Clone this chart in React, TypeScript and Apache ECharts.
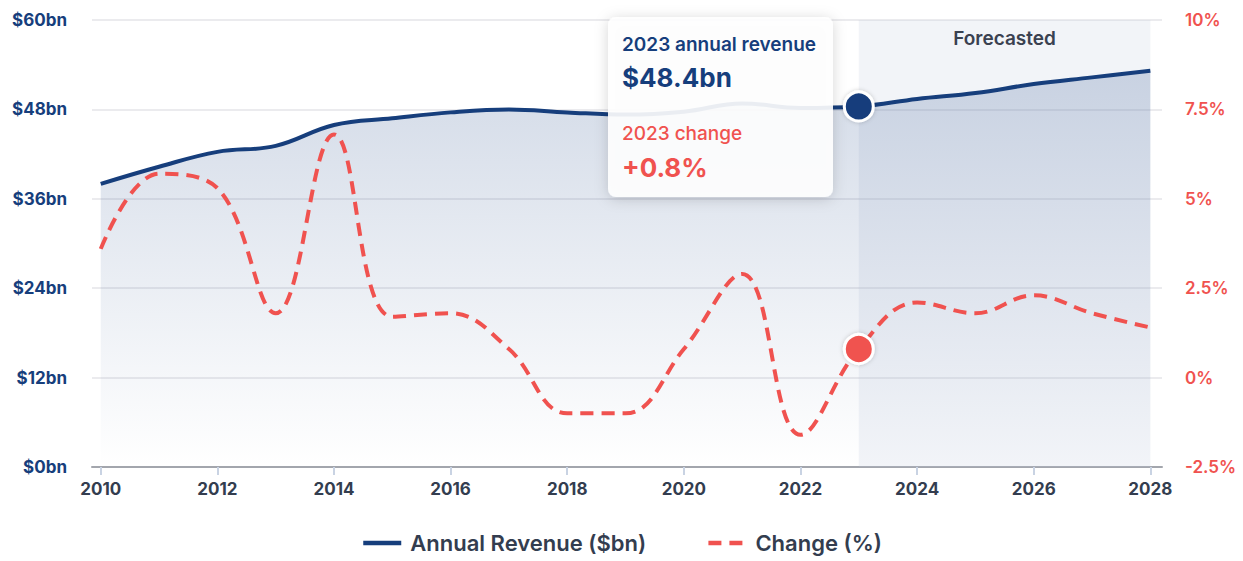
import React, { useEffect, useRef } from "react";
import * as echarts from "echarts";

const years = [2010, 2011, 2012, 2013, 2014, 2015, 2016, 2017, 2018, 2019, 2020, 2021, 2022, 2023, 2024, 2025, 2026, 2027, 2028];
const revenue = [38.0, 40.3, 42.3, 43.1, 45.9, 46.8, 47.6, 48.0, 47.6, 47.3, 47.7, 48.8, 48.2, 48.4, 49.4, 50.2, 51.4, 52.3, 53.2];
const change = [3.6, 5.7, 5.3, 1.8, 6.8, 1.7, 1.8, 0.8, -1.0, -1.0, 0.8, 2.9, -1.6, 0.8, 2.1, 1.8, 2.3, 1.8, 1.4];
const xLabelYears = [2010, 2012, 2014, 2016, 2018, 2020, 2022, 2024, 2026, 2028];
const forecastStart = 2023;
const forecastEnd = 2028;
const highlightYear = 2023;

const BLUE = "#163e7c";
const RED = "#f0524f";
const DARK = "#333d4f";
const FONT = "Inter, 'Noto Sans', sans-serif";

export default function App() {
  const ref = useRef<HTMLDivElement>(null);
  useEffect(() => {
    if (!ref.current) return;
    const chart = echarts.init(ref.current, undefined, { renderer: "svg" });
    const hi = years.indexOf(highlightYear);
    const revPts = years.map((y, i) => [y, revenue[i]]);
    const chgPts = years.map((y, i) => [y, change[i]]);
    chart.setOption({
      animation: false,
      textStyle: { fontFamily: FONT },
      grid: { left: 92, right: 81, top: 20, bottom: 94 },
      legend: {
        bottom: 2,
        left: "center",
        itemWidth: 38,
        itemHeight: 1,
        itemGap: 60,
        lineStyle: { width: 4.5 },
        textStyle: { color: DARK, fontSize: 22, fontWeight: 600, fontFamily: FONT, padding: [0, 0, 0, 4] },
        data: ["Annual Revenue ($bn)", "Change (%)"],
      },
      xAxis: {
        type: "value",
        min: 2009.85,
        max: 2028.2,
        splitLine: { show: false },
        axisLine: { lineStyle: { color: "#a3a6ad", width: 2 } },
        axisTick: {
          customValues: xLabelYears,
          length: 8,
          lineStyle: { color: "#c9d3e3", width: 2 },
        },
        axisLabel: {
          customValues: xLabelYears,
          color: DARK,
          fontSize: 17,
          fontWeight: 700,
          margin: 13,
          formatter: (v: number) => String(v),
        },
      },
      yAxis: [
        {
          type: "value",
          min: 0,
          max: 60,
          interval: 12,
          axisLine: { show: false },
          axisTick: { show: false },
          splitLine: { lineStyle: { color: "#e4e5e8", width: 1.5 } },
          axisLabel: {
            color: BLUE,
            fontSize: 17,
            fontWeight: 700,
            margin: 25,
            formatter: (v: number) => `$${v}bn`,
          },
        },
        {
          type: "value",
          min: -2.5,
          max: 10,
          interval: 2.5,
          axisLine: { show: false },
          axisTick: { show: false },
          splitLine: { show: false },
          axisLabel: {
            color: RED,
            fontSize: 17,
            fontWeight: 600,
            margin: 23,
            formatter: (v: number) => `${v}%`,
          },
        },
      ],
      series: [
        {
          name: "Annual Revenue ($bn)",
          type: "line",
          yAxisIndex: 0,
          data: revPts,
          smooth: 0.4,
          symbol: "none",
          lineStyle: { color: BLUE, width: 4 },
          itemStyle: { color: BLUE },
          areaStyle: {
            color: new echarts.graphic.LinearGradient(0, 0, 0, 1, [
              { offset: 0, color: "rgba(30,70,135,0.28)" },
              { offset: 1, color: "rgba(30,70,135,0.0)" },
            ]),
          },
          markArea: {
            silent: true,
            itemStyle: { color: "rgba(190,198,222,0.2)" },
            label: {
              position: "insideTop",
              distance: 9,
              color: "#3a4150",
              fontSize: 19,
              fontWeight: 600,
              fontFamily: FONT,
            },
            data: [[{ xAxis: forecastStart, name: "Forecasted" }, { xAxis: forecastEnd }]],
          },
          z: 3,
        },
        {
          name: "Change (%)",
          type: "line",
          yAxisIndex: 1,
          data: chgPts,
          smooth: 0.4,
          symbol: "none",
          lineStyle: { color: RED, width: 4, type: [13, 8] },
          itemStyle: { color: RED },
          z: 4,
        },
        {
          type: "scatter",
          yAxisIndex: 0,
          data: [revPts[hi]],
          symbolSize: 29,
          itemStyle: {
            color: BLUE,
            opacity: 1,
            borderColor: "#fff",
            borderWidth: 3,
            shadowColor: "rgba(0,0,0,0.2)",
            shadowBlur: 4,
          },
          z: 6,
          silent: true,
        },
        {
          type: "scatter",
          yAxisIndex: 1,
          data: [chgPts[hi]],
          symbolSize: 29,
          itemStyle: {
            color: RED,
            opacity: 1,
            borderColor: "#fff",
            borderWidth: 3,
            shadowColor: "rgba(0,0,0,0.2)",
            shadowBlur: 4,
          },
          z: 6,
          silent: true,
        },
      ],
      graphic: [
        {
          type: "group",
          z: 100,
          children: [
            {
              type: "rect",
              shape: { x: 608, y: 17, width: 225, height: 180, r: 8 },
              style: {
                fill: "rgba(255,255,255,0.9)",
                shadowColor: "rgba(0,0,0,0.18)",
                shadowBlur: 14,
                shadowOffsetY: 2,
              },
              z: 100,
            },
            {
              type: "text",
              x: 622,
              y: 44,
              style: { text: `${highlightYear} annual revenue`, fill: BLUE, font: `600 19px ${FONT}`, textVerticalAlign: "middle" },
              z: 101,
            },
            {
              type: "text",
              x: 622,
              y: 77,
              style: { text: `$${revenue[hi]}bn`, fill: BLUE, font: `700 26px ${FONT}`, textVerticalAlign: "middle" },
              z: 101,
            },
            {
              type: "text",
              x: 622,
              y: 133,
              style: { text: `${highlightYear} change`, fill: RED, font: `500 19px ${FONT}`, textVerticalAlign: "middle" },
              z: 101,
            },
            {
              type: "text",
              x: 622,
              y: 167,
              style: { text: `+${change[hi]}%`, fill: RED, font: `700 26px ${FONT}`, textVerticalAlign: "middle" },
              z: 101,
            },
          ],
        },
      ],
    });
    return () => chart.dispose();
  }, []);
  return (
    <div
      ref={ref}
      style={{ position: "fixed", left: 0, top: 0, width: 1243, height: 561, background: "#fff" }}
    />
  );
}
